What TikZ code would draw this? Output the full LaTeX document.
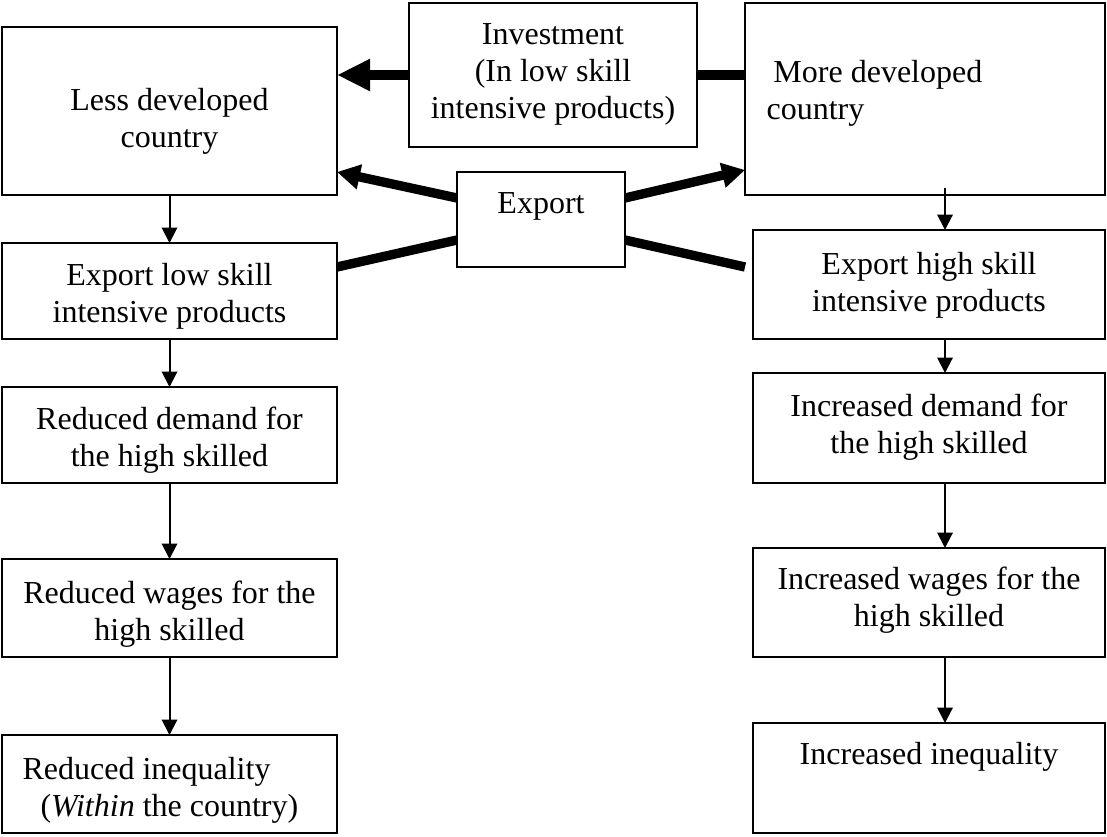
\documentclass[tikz,border=0pt]{standalone}
\usepackage{fontspec}
\setmainfont{Liberation Serif}
\usetikzlibrary{arrows.meta,fit,calc}
\begin{document}
\begin{tikzpicture}[x=0.375pt,y=-0.375pt,
  box/.style={draw, line width=0.75pt, inner sep=0pt, outer sep=0pt},
  txt/.style={font=\fontsize{12pt}{13.9pt}\selectfont, align=center, inner sep=0pt, yshift=-1.5pt},
  flow/.style={line width=0.75pt, -{Triangle[length=5.8pt,width=5.8pt]}},
  bigflow/.style={line width=3.75pt, -{Triangle[length=12.4pt,width=11.25pt]}},
  invline/.style={line width=3.75pt},
  expflow/.style={line width=3.5pt, -{Triangle[length=8.6pt,width=9pt]}},
  expline/.style={line width=3.5pt}]
\useasboundingbox (0,0) rectangle (1107,836);
% boxes
\node[box, fit={(2,27) (337,195)}] (ldc) {};
\node[box, fit={(409,3) (697,147)}] (inv) {};
\node[box, fit={(745,3) (1105,195)}] (mdc) {};
\node[box, fit={(457,172) (625,267)}] (exp) {};
\node[box, fit={(2,243) (337,339)}] (els) {};
\node[box, fit={(753,230) (1105,339)}] (ehs) {};
\node[box, fit={(2,387) (337,483)}] (rd) {};
\node[box, fit={(753,373) (1105,483)}] (id) {};
\node[box, fit={(2,559) (337,657)}] (rw) {};
\node[box, fit={(753,548) (1105,657)}] (iw) {};
\node[box, fit={(2,735) (337,833)}] (ri) {};
\node[box, fit={(753,723) (1105,833)}] (ii) {};
% texts
\node[txt] (ldct) at (169.5,117) {Less developed\\country};
\node[txt] (invt) at (553,70) {Investment\\(In low skill\\intensive products)};
\node[txt, align=left, anchor=west] (mdct) at (766,89.5) {\hspace*{2.6pt}More developed\\country};
\node[txt] (expt) at (541,202) {Export};
\node[txt] (elst) at (169.5,292) {Export low skill\\intensive products};
\node[txt] (ehst) at (929,281) {Export high skill\\intensive products};
\node[txt] (rdt) at (169.5,436) {Reduced demand for\\the high skilled};
\node[txt] (idt) at (929,423) {Increased demand for\\the high skilled};
\node[txt] (rwt) at (169.5,610) {Reduced wages for the\\high skilled};
\node[txt] (iwt) at (929,596) {Increased wages for the\\high skilled};
\node[txt, align=left, anchor=west] (rit) at (22,786) {Reduced inequality\\\hspace*{6.75pt}(\textit{Within} the country)};
\node[txt] (iit) at (929,753) {Increased inequality};
% thick connectors
\draw[bigflow] (inv.west) -- (inv.west -| ldc.east);
\draw[invline] (inv.east) -- (inv.east -| mdc.west);
\draw[expflow] ($(exp.north west)+(0,26)$) -- ($(ldc.south east)+(0,-23)$);
\draw[expflow] ($(exp.north east)+(0,26)$) -- ($(mdc.south west)+(0,-25)$);
\draw[expline] ($(exp.south west)+(0,-27)$) -- ($(els.north east)+(0,24)$);
\draw[expline] ($(exp.south east)+(0,-27)$) -- ($(ehs.north west)+(-8,37)$);
% thin arrows, left column
\draw[flow] (ldc.south) -- (els.north);
\draw[flow] (els.south) -- (rd.north);
\draw[flow] (rd.south) -- (rw.north);
\draw[flow] (rw.south) -- (ri.north);
% thin arrows, right column
\coordinate (rx) at (945,0);
\draw[flow] ($(mdc.south -| rx)+(0,-7)$) -- (ehs.north -| rx);
\draw[flow] (ehs.south -| rx) -- (id.north -| rx);
\draw[flow] (id.south -| rx) -- (iw.north -| rx);
\draw[flow] (iw.south -| rx) -- (ii.north -| rx);
\end{tikzpicture}
\end{document}
